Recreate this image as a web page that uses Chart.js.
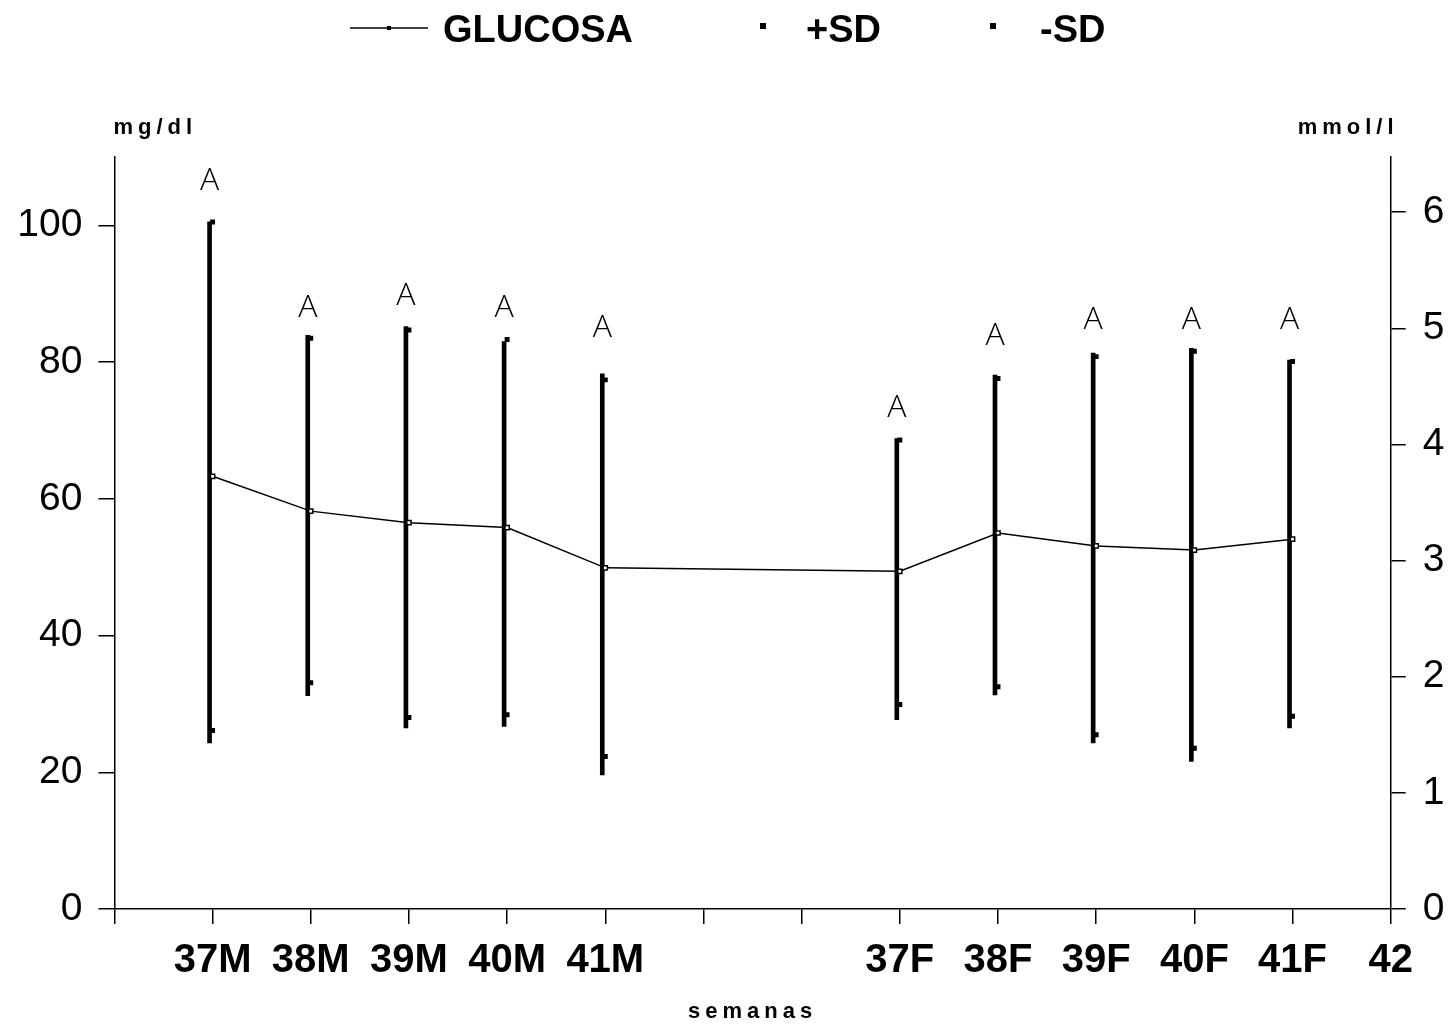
<!DOCTYPE html>
<html lang="es">
<head>
    <meta charset="UTF-8">
    <title>Glucosa por semanas</title>
    <script src="https://cdn.jsdelivr.net/npm/chart.js"></script>
    <style>
        body { margin: 0; background: #fff; }
        #wrap { width: 1450px; height: 1031px; }
    </style>
</head>
<body>
    <div id="wrap"><canvas id="glucosaChart" width="1450" height="1031"></canvas></div>
    <script>
        // semanas (M / F) y su posición en el eje x
        const categorias = ['37M', '38M', '39M', '40M', '41M', '37F', '38F', '39F', '40F', '41F'];
        const posiciones = [1, 2, 3, 4, 5, 8, 9, 10, 11, 12];
        const etiquetasEje = ['', '37M', '38M', '39M', '40M', '41M', '', '', '37F', '38F', '39F', '40F', '41F', '42'];

        // glucosa (mg/dl)
        const glucosa = [63.3, 58.2, 56.5, 55.8, 49.9, 49.4, 55.0, 53.1, 52.5, 54.1];
        const masSD = [100.5, 83.5, 84.7, 83.3, 77.4, 68.6, 77.6, 80.8, 81.6, 80.1];
        const menosSD = [26.1, 33.1, 28.0, 28.4, 22.3, 29.9, 32.5, 25.5, 23.5, 28.2];

        // extremos de las barras verticales
        const barraAlta = [100.5, 83.9, 85.2, 83.0, 78.3, 68.8, 78.1, 81.3, 82.0, 80.3];
        const barraBaja = [24.3, 31.2, 26.5, 26.7, 19.6, 27.7, 31.3, 24.3, 21.6, 26.5];

        // letras encima de cada barra (valor de la base de la letra)
        const letras = ['A', 'A', 'A', 'A', 'A', 'A', 'A', 'A', 'A', 'A'];
        const letraPos = [105.1, 86.6, 88.3, 86.6, 83.6, 71.9, 82.5, 84.9, 84.9, 84.9];

        // ejes
        const mgMax = 110;
        const mmolMax = 6.475;
        const xMax = 13;

        const textos = {
            id: 'textos',
            beforeDatasetDraw(chart, args) {
                if (args.index === 3) { chart.ctx.save(); chart.ctx.translate(-3, 0); }
            },
            afterDatasetDraw(chart, args) {
                if (args.index === 3) chart.ctx.restore();
            },
            afterDraw(chart) {
                const ctx = chart.ctx;
                const x = chart.scales.x, y = chart.scales.y, area = chart.chartArea;
                ctx.save();
                ctx.fillStyle = '#000';
                ctx.strokeStyle = '#000';

                // letras
                ctx.font = '300 32px "Open Sans"';
                ctx.textAlign = 'center';
                ctx.textBaseline = 'alphabetic';
                letras.forEach((t, i) => {
                    ctx.fillText(t, x.getPixelForValue(posiciones[i]) - 3, y.getPixelForValue(letraPos[i]));
                });

                // unidades y título del eje x
                ctx.textAlign = 'left';
                ctx.font = 'bold 22px "Liberation Sans"';
                ctx.letterSpacing = '5px';
                ctx.fillText('mg/dl', area.left - 1, 134);
                ctx.fillText('mmol/l', area.right - 93, 134);
                ctx.fillText('semanas', 688, 1018);
                ctx.letterSpacing = '0px';

                // leyenda
                ctx.lineWidth = 1.5;
                ctx.beginPath();
                ctx.moveTo(350, 28);
                ctx.lineTo(428, 28);
                ctx.stroke();
                ctx.fillRect(387, 26, 4, 4);
                ctx.font = 'bold 38px "Liberation Sans"';
                ctx.fillText('GLUCOSA', 443, 42);
                ctx.fillRect(760, 23, 6, 6);
                ctx.fillText('+SD', 806, 42);
                ctx.fillRect(990, 23, 6, 6);
                ctx.fillText('-SD', 1040, 42);
                ctx.restore();
            }
        };

        const ctx = document.getElementById('glucosaChart').getContext('2d');
        new Chart(ctx, {
            type: 'bar',
            data: {
                datasets: [{
                    type: 'line',
                    label: 'GLUCOSA',
                    data: posiciones.map((p, i) => ({ x: p, y: glucosa[i] })),
                    borderColor: '#000',
                    borderWidth: 1.5,
                    pointStyle: 'rect',
                    pointRadius: 3,
                    pointBackgroundColor: '#fff',
                    pointBorderColor: '#000',
                    pointBorderWidth: 1.5,
                    tension: 0
                }, {
                    type: 'line',
                    label: '+SD',
                    data: posiciones.map((p, i) => ({ x: p, y: masSD[i] })),
                    showLine: false,
                    pointStyle: 'rect',
                    pointRadius: 3.5,
                    pointBackgroundColor: '#000',
                    pointBorderWidth: 0
                }, {
                    type: 'line',
                    label: '-SD',
                    data: posiciones.map((p, i) => ({ x: p, y: menosSD[i] })),
                    showLine: false,
                    pointStyle: 'rect',
                    pointRadius: 3.5,
                    pointBackgroundColor: '#000',
                    pointBorderWidth: 0
                }, {
                    type: 'bar',
                    label: 'rango',
                    data: posiciones.map((p, i) => ({ x: p, y: [barraBaja[i], barraAlta[i]] })),
                    backgroundColor: '#000',
                    borderWidth: 0,
                    barThickness: 4
                }]
            },
            options: {
                responsive: false,
                animation: false,
                layout: { padding: { top: 157, left: 0, right: 0, bottom: 0 } },
                plugins: {
                    legend: { display: false },
                    tooltip: { enabled: false }
                },
                scales: {
                    x: {
                        type: 'linear',
                        min: 0,
                        max: xMax,
                        offset: false,
                        afterFit: s => { s.height = 122; },
                        border: { color: '#000', width: 1.5 },
                        grid: { drawOnChartArea: false, offset: false, color: '#000', lineWidth: 1.5, tickLength: 15 },
                        ticks: {
                            stepSize: 1,
                            autoSkip: false,
                            maxRotation: 0,
                            padding: 13,
                            color: '#000',
                            font: { family: '"Liberation Sans", Arial', size: 40, weight: 'bold' },
                            callback: v => etiquetasEje[v] || ''
                        }
                    },
                    y: {
                        position: 'left',
                        min: 0,
                        max: mgMax,
                        afterFit: s => { s.width = 114.4; },
                        border: { color: '#000', width: 1.5 },
                        grid: { drawOnChartArea: false, color: '#000', lineWidth: 1.5, tickLength: 16 },
                        ticks: {
                            stepSize: 20,
                            includeBounds: false,
                            padding: 16,
                            color: '#000',
                            font: { family: '"Liberation Sans", Arial', size: 39 }
                        }
                    },
                    y2: {
                        position: 'right',
                        min: 0,
                        max: mmolMax,
                        afterFit: s => { s.width = 59.3; },
                        border: { color: '#000', width: 1.5 },
                        grid: { drawOnChartArea: false, color: '#000', lineWidth: 1.5, tickLength: 15 },
                        ticks: {
                            stepSize: 1,
                            includeBounds: false,
                            padding: 17,
                            color: '#000',
                            font: { family: '"Liberation Sans", Arial', size: 39 }
                        }
                    }
                }
            },
            plugins: [textos]
        });
    </script>
</body>
</html>
